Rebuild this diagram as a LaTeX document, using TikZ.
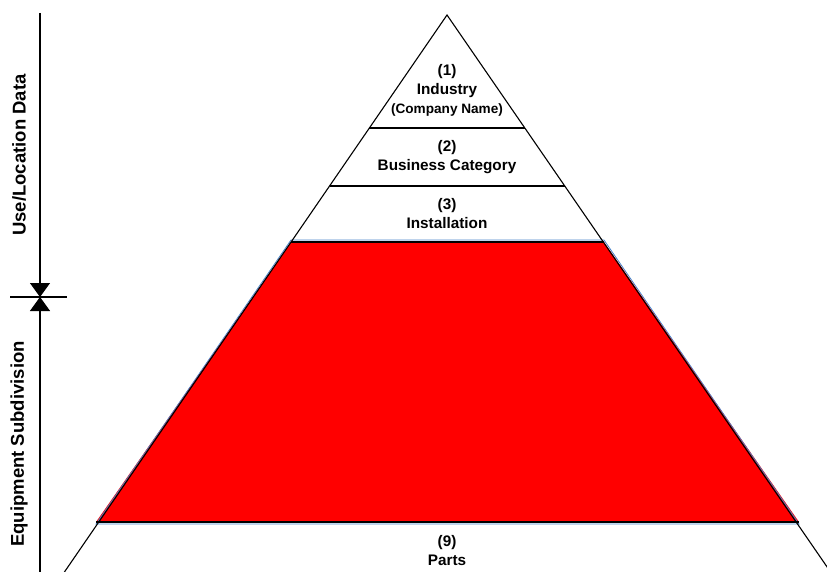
\documentclass[tikz,border=0pt]{standalone}
\usepackage{fontspec}
\setmainfont{Liberation Sans}
\usetikzlibrary{arrows.meta}
\begin{document}
\begin{tikzpicture}[x=1pt,y=-1pt,
  edge/.style={line width=1.1pt,black},
  lbl/.style={font=\bfseries\fontsize{15.3}{19}\selectfont,align=center,inner sep=0pt},
  sublbl/.style={font=\bfseries\fontsize{13.6}{16}\selectfont,inner sep=0pt},
  axislbl/.style={font=\bfseries\fontsize{18.5}{21}\selectfont,rotate=90,inner sep=0pt},
  marker/.style={-{Triangle[width=20pt,length=14pt]},line width=1.1pt}]
\useasboundingbox (0,0) rectangle (827,572);
\begin{scope}
\clip (0,0) rectangle (827,572);
% pyramid corners
\coordinate (apex) at (447,15);
\coordinate (l1) at (369,128); \coordinate (r1) at (525,128);
\coordinate (l2) at (330,186); \coordinate (r2) at (565,186);
\coordinate (l3) at (291,242); \coordinate (r3) at (604,242);
\coordinate (l4) at (96,522);  \coordinate (r4) at (799,522);
\coordinate (lb) at (61,577);  \coordinate (rb) at (834,577);
% red band
\fill[red] (l3) -- (r3) -- (r4) -- (l4) -- cycle;
\draw[line width=0.8pt,color={rgb,255:red,70;green,130;blue,200}]
  ([yshift=2pt]l3) -- ([yshift=2pt]r3) -- ([yshift=-2pt]r4) -- ([yshift=-2pt]l4) -- cycle;
% outline and layer lines
\draw[edge] (lb) -- (apex) -- (rb);
\draw[edge] (l1) -- (r1);
\draw[edge] (l2) -- (r2);
\draw[edge] (l3) -- (r3);
\draw[edge] (l4) -- (r4);
\end{scope}
% layer labels
\node[lbl] (n1) at (447,81.5) {(1)\\Industry};
\node[sublbl] (n1b) at (447,110) {(Company Name)};
\node[lbl] (n2) at (447,157.5) {(2)\\Business Category};
\node[lbl] (n3) at (447,213.5) {(3)\\Installation};
\node[lbl] (n9) at (447,551) {(9)\\Parts};
% side axis
\coordinate (top) at (40,13);
\coordinate (mid) at (40,297);
\coordinate (bot) at (40,572);
\coordinate (tl) at (10,297);
\coordinate (tr) at (67,297);
\draw[marker] (top) -- (mid);
\draw[marker] (bot) -- (mid);
\draw[edge] (tl) -- (tr);
\node[axislbl] (a1) at (19,155) {Use/Location Data};
\node[axislbl] (a2) at (19,444) {Equipment Subdivision};
\end{tikzpicture}
\end{document}
